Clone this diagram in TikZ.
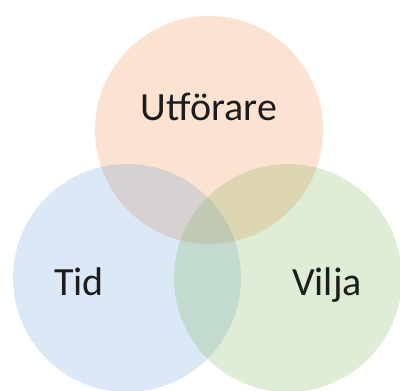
\documentclass[tikz,border=0pt]{standalone}
\usepackage{fontspec}
\setmainfont{Carlito}
\definecolor{accOrange}{RGB}{237,125,49}
\definecolor{accBlue}{RGB}{91,155,213}
\definecolor{accGreen}{RGB}{112,173,71}
\definecolor{inkText}{RGB}{28,28,28}
\begin{document}
\begin{tikzpicture}[x=1pt,y=-1pt,
  venn/.style={circle, minimum size=228pt, inner sep=0pt, draw=none, fill opacity=0.22},
  lbl/.style={anchor=base, text=inkText, font=\fontsize{40}{48}\selectfont, inner sep=0pt}]
  \useasboundingbox (0,0) rectangle (400,391);
  \clip (0,0) rectangle (400,391);
  \fill[white] (0,0) rectangle (400,391);
  % three overlapping sets
  \node[venn, fill=accOrange] (top) at (209,130) {};
  \node[venn, fill=accBlue] (left) at (127,278) {};
  \node[venn, fill=accGreen] (right) at (288,278) {};
  % set labels
  \node[lbl] (utf) at (209,120) {Utförare};
  \node[lbl] (tid) at (79,295) {Tid};
  \node[lbl] (vil) at (327,295) {Vilja};
\end{tikzpicture}
\end{document}
